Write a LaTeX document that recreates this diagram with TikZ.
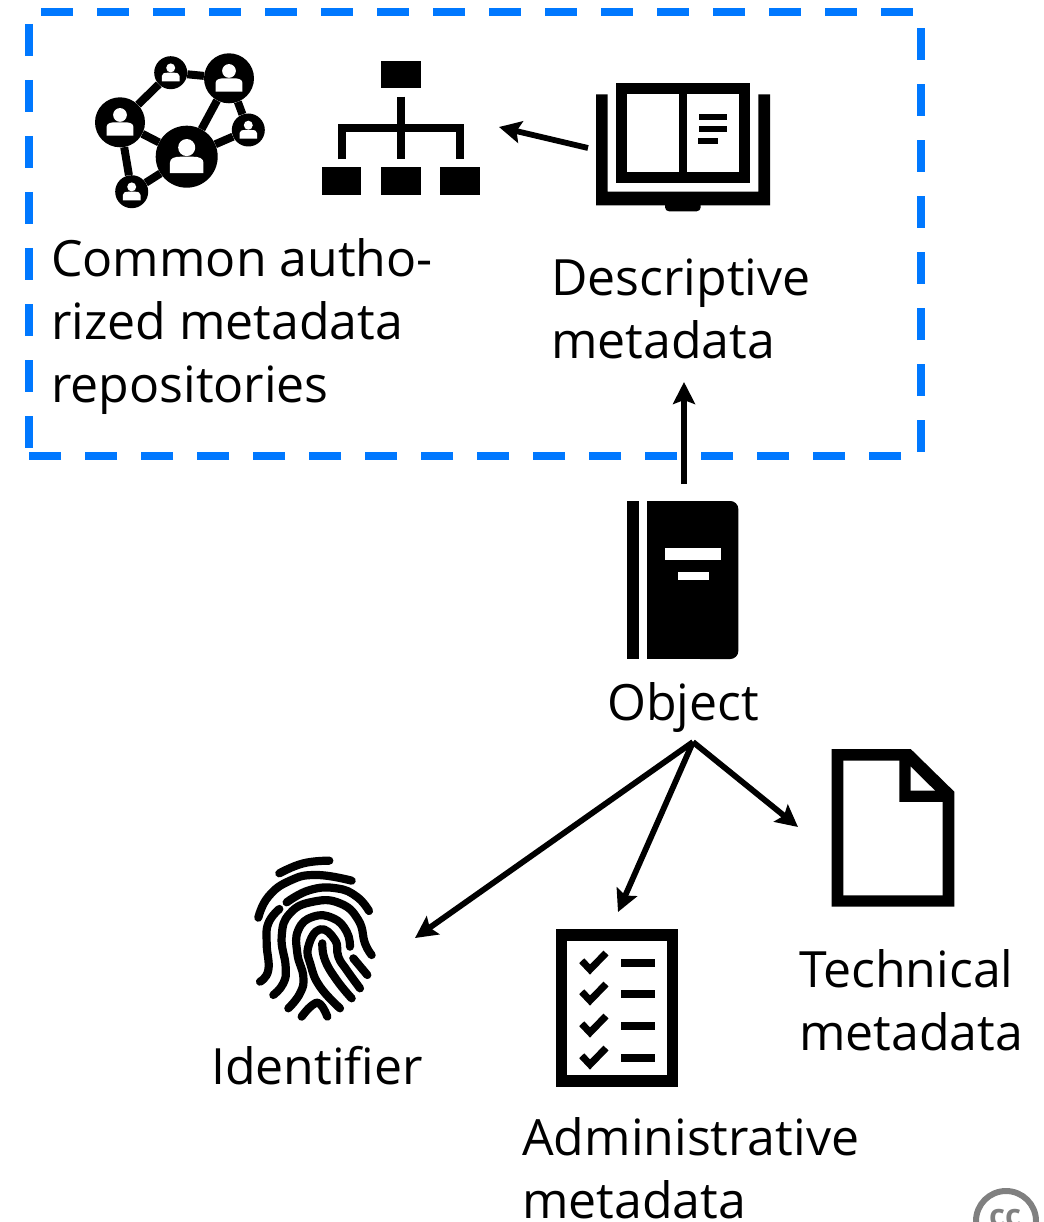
\documentclass[tikz,border=0pt]{standalone}
\usepackage{fontspec}
\setmainfont{Open Sans}
\usetikzlibrary{arrows.meta}
\definecolor{boxblue}{RGB}{0,120,255}
\definecolor{logogray}{RGB}{128,128,128}
\tikzset{
	lbl/.style={font=\fontsize{50}{63}\selectfont, align=left, inner sep=0pt, anchor=base west},
	arrow/.style={-{Stealth[length=22pt,width=22pt,inset=4pt]}, line width=5.8pt},
	dashbox/.style={boxblue, line width=8pt, dash pattern=on 32pt off 24pt},
	member/.style={circle, fill=black, inner sep=0pt},
	link/.style={line width=8pt},
	treebox/.style={rectangle, fill=black, inner sep=0pt, minimum width=39.5pt, minimum height=27.7pt},
	treeline/.style={line width=7.7pt},
	ridge/.style={line width=8.2pt, line cap=round, line join=round},
	tick/.style={line width=7pt},
	pics/person/.style={code={
		\fill [white] (0,-0.30) circle [radius=0.28];
		\fill [white] (-0.55,0.54) -- (-0.55,0.2) .. controls (-0.55,0.05) and (-0.4,0) .. (-0.2,0) -- (0.2,0) .. controls (0.4,0) and (0.55,0.05) .. (0.55,0.2) -- (0.55,0.54) -- cycle;
	}}
}
\begin{document}
\begin{tikzpicture}[x=1pt, y=-1pt]
\useasboundingbox (0,0) rectangle (1043,1222);

\draw [dashbox] (41,12) -- (921,12);
\draw [dashbox] (29,24) -- (29,460);
\draw [dashbox] (921,452) -- (921,12);
\draw [dashbox] (901,456) -- (29,456);

% people network
\node (net-A) at (186.7,156.7) [member, minimum size=62]{};
\node (net-B) at (120,122.3) [member, minimum size=50]{};
\node (net-C) at (170.7,72.7) [member, minimum size=33]{};
\node (net-D) at (229,78.3) [member, minimum size=50]{};
\node (net-E) at (248.3,130) [member, minimum size=33]{};
\node (net-F) at (131.7,191.7) [member, minimum size=33]{};

\draw [link] (net-B) -- (net-C);
\draw [link] (net-C) -- (net-D);
\draw [link] (net-D) -- (net-A);
\draw [link] (net-D) -- (net-E);
\draw [link] (net-E) -- (net-A);
\draw [link] (net-A) -- (net-B);
\draw [link] (net-B) -- (net-F);
\draw [link] (net-F) -- (net-A);

\pic [scale=30.5] at (net-A) {person};
\pic [scale=24.5] at (net-B) {person};
\pic [scale=16] at (net-C) {person};
\pic [scale=24.5] at (net-D) {person};
\pic [scale=16] at (net-E) {person};
\pic [scale=16] at (net-F) {person};

% hierarchy
\node (tree-0) at (400.8,74.5) [treebox]{};
\node (tree-1) at (341.7,181.2) [treebox]{};
\node (tree-2) at (400.8,181.2) [treebox]{};
\node (tree-3) at (460.2,181.2) [treebox]{};
\draw [treeline] (401.2,96.7) -- (401.2,159.3);
\draw [treeline] (341.7,159.3) -- (341.7,127.8) -- (460.3,127.8) -- (460.3,159.3);

% open book
\fill (596,94.3) -- (607.7,94.3) -- (607.7,191.7) -- (758.3,191.7) -- (758.3,94.3) -- (770,94.3) -- (770,205.3) -- (596,205.3) -- cycle;
\fill [rounded corners=4pt] (665,200) -- (665,211.3) -- (700.7,211.3) -- (700.7,200) -- cycle;
\fill (615.7,82.7) rectangle (750.3,183.3);
\fill [white] (627.3,94.3) rectangle (679.3,171.7);
\fill [white] (687,94.3) rectangle (738.7,171.7);
\fill (699,114) rectangle (727,120);
\fill (699,126) rectangle (727,132);
\fill (698,138) rectangle (718,144);

% closed book
\fill (627.3,501) rectangle (639.3,659);
\fill [rounded corners=8pt] (700,501) -- (738.3,501) -- (738.3,659) -- (700,659);
\fill (647.3,501) rectangle (710,659);
\fill [white] (665.3,548.3) rectangle (720.7,560.3);
\fill [white] (678,572) rectangle (708.7,579.7);

% page
\fill (831.7,749) -- (910.7,749) -- (954.3,791.7) -- (954.3,906.7) -- (831.7,906.7) -- cycle;
\fill [white] (843.3,760.7) -- (899.3,760.7) -- (899.3,802) -- (942.7,802) -- (942.7,895.3) -- (843.3,895.3) -- cycle;
\fill [white] (910.7,766.7) -- (935,790.7) -- (910.7,790.7) -- cycle;

% checklist
\fill (555.7,929) rectangle (678.3,1087);
\fill [white] (567.3,940.7) rectangle (666.7,1075.3);
\fill (621,959) rectangle (655,967);
\fill (621,990) rectangle (655,998);
\fill (621,1022) rectangle (655,1030);
\fill (621,1054) rectangle (655,1062);
\draw [tick] (581.7,960.7) -- ++(8.3,8.8) -- ++(16,-16.5);
\draw [tick] (581.7,991.7) -- ++(8.3,8.8) -- ++(16,-16.5);
\draw [tick] (581.7,1023.7) -- ++(8.3,8.8) -- ++(16,-16.5);
\draw [tick] (581.7,1055.7) -- ++(8.3,8.8) -- ++(16,-16.5);

% fingerprint
\begin{scope}[shift={(240,840)}, x=0.3333pt, y=-0.3333pt]
\draw [ridge] plot [smooth, tension=0.8] coordinates {(118,100) (190,70) (268,62)};
\draw [ridge] plot [smooth, tension=0.8] coordinates {(55,233) (85,170) (150,122) (230,105) (335,122)};
\draw [ridge] plot [smooth, tension=0.8] coordinates {(140,187) (210,150) (290,145) (350,170) (387,213)};
\draw [ridge] plot [smooth, tension=0.8] coordinates {(118,207) (85,250) (80,310) (85,390) (60,425)};
\draw [ridge] plot [smooth, tension=0.8] coordinates {(100,465) (130,430) (137,380) (125,290) (150,220) (220,185) (300,190) (355,240) (375,310) (395,345)};
\draw [ridge] plot [smooth, tension=0.8] coordinates {(145,505) (180,460) (190,410) (172,340) (175,270) (220,230) (280,235) (320,275) (330,320)};
\draw [ridge] plot [smooth, tension=0.8] coordinates {(300,505) (240,440) (212,375) (205,320) (240,268) (285,300) (295,350) (320,390) (360,445)};
\draw [ridge] plot [smooth, tension=0.8] coordinates {(247,310) (255,360) (290,420) (335,475)};
\draw [ridge] (340,355) -- (382,405);
\draw [ridge] plot [smooth, tension=0.8] coordinates {(185,530) (215,497) (240,492) (262,530)};
\end{scope}

% creative commons mark, cut by the page edge
\draw [logogray, line width=6pt] (1006,1221) circle [radius=30];
\node (logo) at (1005,1226) [logogray, font=\fontsize{31}{31}\selectfont\bfseries, inner sep=0pt, anchor=base]{cc};

\node (common) at (51,402) [lbl]{Common autho-\\rized metadata\\repositories};
\node (descriptive) at (551,358) [lbl]{Descriptive\\metadata};
\node (object) at (607,720) [lbl]{Object};
\node (identifier) at (211,1084) [lbl]{Identifier};
\node (technical) at (799,1050) [lbl]{Technical\\metadata};
\node (administrative) at (522,1218) [lbl]{Administrative\\metadata};

\coordinate (book-left) at (588,148);
\coordinate (tree-right) at (499,127);
\coordinate (object-top) at (684,484);
\coordinate (descriptive-bottom) at (684,382);
\coordinate (object-fan) at (693,742);
\coordinate (identifier-end) at (415,938);
\coordinate (administrative-end) at (618,912);
\coordinate (technical-end) at (798,827);

\draw [arrow] (book-left) -- (tree-right);
\draw [arrow] (object-top) -- (descriptive-bottom);
\draw [arrow] (object-fan) -- (identifier-end);
\draw [arrow] (object-fan) -- (administrative-end);
\draw [arrow] (object-fan) -- (technical-end);

\end{tikzpicture}
\end{document}
